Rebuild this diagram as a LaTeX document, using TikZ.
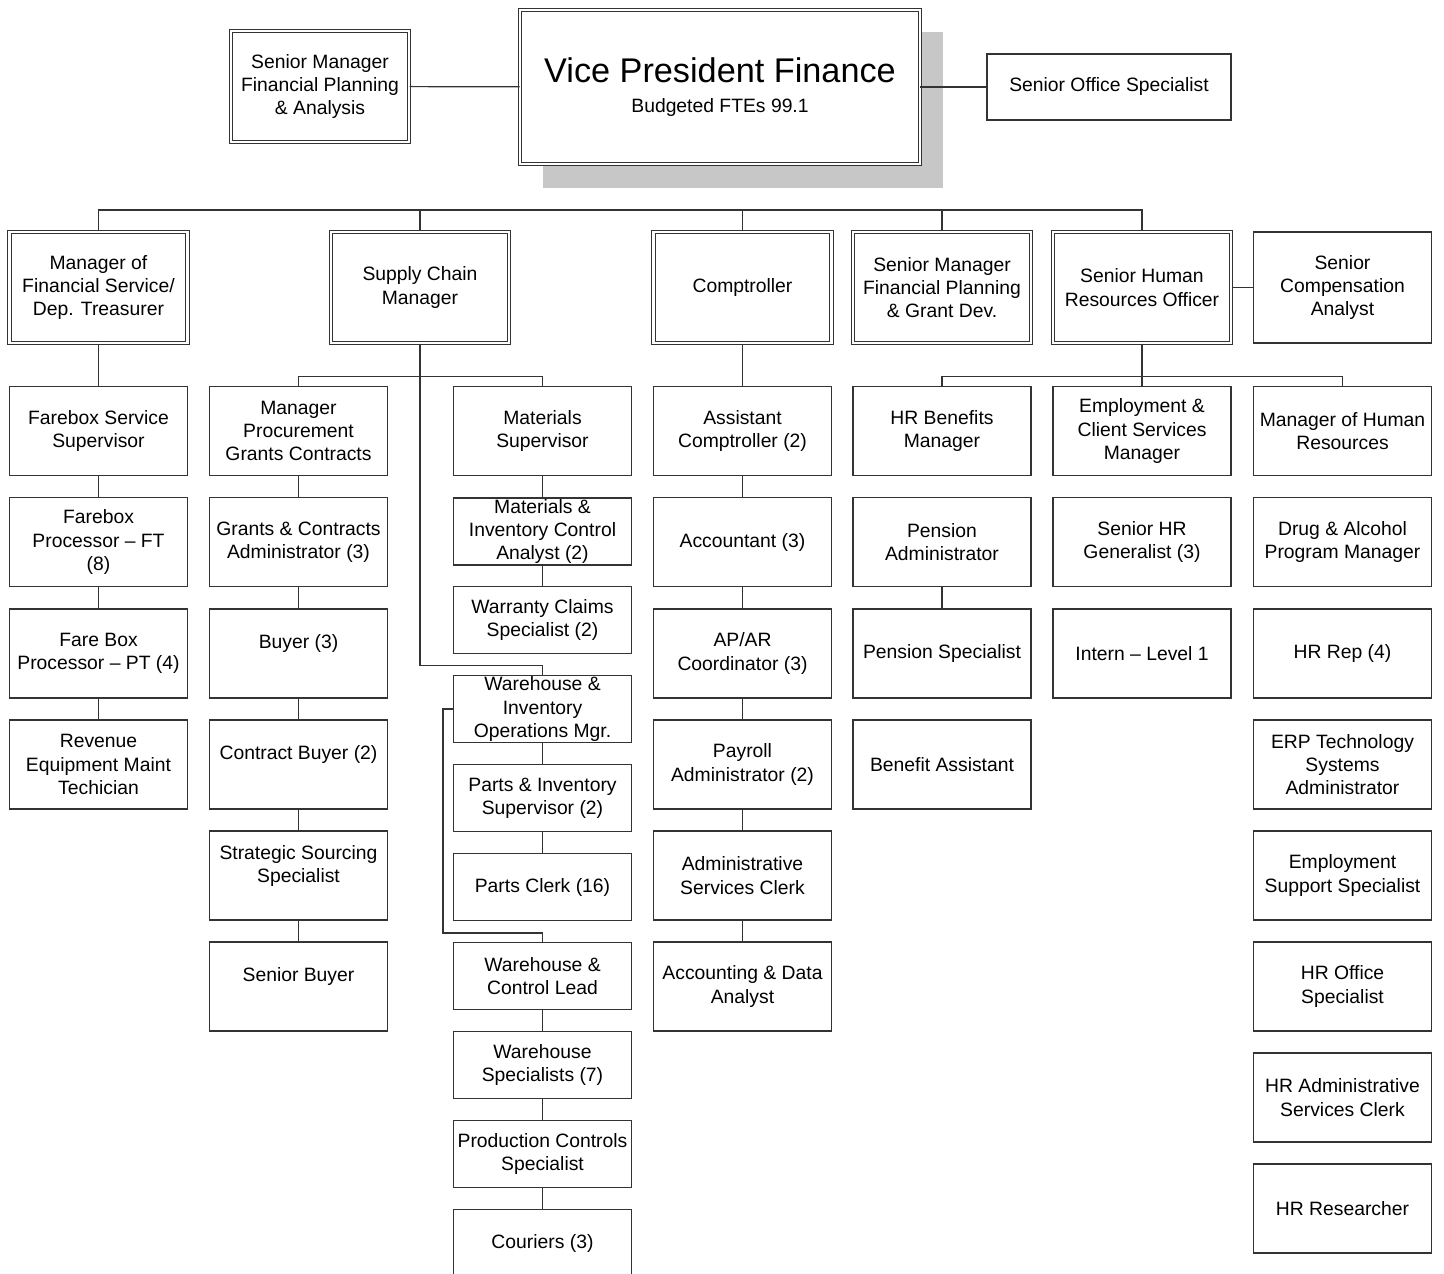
\documentclass[tikz,border=0pt]{standalone}
\usepackage{fontspec}
\setmainfont{Liberation Sans}
\begin{document}
\begin{tikzpicture}[
  x=0.02cm, y=-0.02cm,
  box/.style={rectangle, draw=black!80, line width=0.7pt, fill=white, align=center, inner sep=0pt, minimum width=3.56cm, minimum height=1.78cm, font=\fontsize{11}{13.3}\selectfont},
  dbox/.style={box, double, double distance=1.4pt, line width=0.6pt},
  headbox/.style={dbox, minimum height=2.22cm},
  thinbox/.style={box, minimum height=1.34cm},
  link/.style={line width=0.7pt, draw=black!80}
]

  % Fondo y márgenes
  \fill[white] (0,0) rectangle (1444,1274);
  \useasboundingbox (0,0) rectangle (1444,1274);

  % Dirección
  \fill[black!22] (543,32) rectangle (943,188);
  \node[dbox, minimum width=8cm, minimum height=3.08cm] (vp) at (720,87) {{\fontsize{19.5}{22}\selectfont Vice President Finance}\\[4pt] Budgeted FTEs 99.1};
  \node[dbox, minimum height=2.22cm] (smfpa) at (320,86.5) {Senior Manager\\Financial Planning\\\& Analysis};
  \node[box, minimum width=4.88cm, minimum height=1.32cm] (sos) at (1109,87) {Senior Office Specialist};

  % Segundo nivel
  \node[headbox] (mfs) at (98.5,287.5) {Manager of\\Financial Service/\\Dep. Treasurer};
  \node[headbox] (scm) at (420,287.5) {Supply Chain\\Manager};
  \node[headbox] (comp) at (742.5,287.5) {Comptroller};
  \node[headbox] (smfpg) at (942,287.5) {Senior Manager\\Financial Planning\\\& Grant Dev.};
  \node[headbox] (shro) at (1142,287.5) {Senior Human\\Resources Officer};
  \node[box, minimum height=2.22cm] (sca) at (1342.5,287.5) {Senior\\Compensation\\Analyst};

  % Servicios financieros
  \node[box] (fss) at (98.5,431) {Farebox Service\\Supervisor};
  \node[box] (fpft) at (98.5,542) {Farebox\\Processor -- FT\\(8)};
  \node[box] (fppt) at (98.5,653.5) {Fare Box\\Processor -- PT (4)};
  \node[box] (remt) at (98.5,764.5) {Revenue\\Equipment Maint\\Techician};

  % Compras
  \node[box] (mpgc) at (298.5,431) {Manager\\Procurement\\Grants Contracts};
  \node[box] (gca) at (298.5,542) {Grants \& Contracts\\Administrator (3)};
  \node[box] (buy) at (298.5,653.5) {Buyer (3)\\\mbox{}};
  \node[box] (cbuy) at (298.5,764.5) {Contract Buyer (2)\\\mbox{}};
  \node[box] (sss) at (298.5,875.5) {Strategic Sourcing\\Specialist\\\mbox{}};
  \node[box] (sbuy) at (298.5,986.5) {Senior Buyer\\\mbox{}};

  % Materiales y almacén
  \node[box] (msup) at (542.5,431) {Materials\\Supervisor};
  \node[thinbox] (mica) at (542.5,531.5) {Materials \&\\Inventory Control\\Analyst (2)};
  \node[thinbox] (wcs) at (542.5,620) {Warranty Claims\\Specialist (2)};
  \node[thinbox] (wio) at (542.5,709) {Warehouse \&\\Inventory\\Operations Mgr.};
  \node[thinbox] (pis) at (542.5,798) {Parts \& Inventory\\Supervisor (2)};
  \node[thinbox] (pc) at (542.5,887) {Parts Clerk (16)};
  \node[thinbox] (wcl) at (542.5,976) {Warehouse \&\\Control Lead};
  \node[thinbox] (wsp) at (542.5,1065) {Warehouse\\Specialists (7)};
  \node[thinbox] (pcs) at (542.5,1154) {Production Controls\\Specialist};
  \node[thinbox] (cou) at (542.5,1243) {Couriers (3)};

  % Contraloría
  \node[box] (acomp) at (742.5,431) {Assistant\\Comptroller (2)};
  \node[box] (acct) at (742.5,542) {Accountant (3)};
  \node[box] (apar) at (742.5,653.5) {AP/AR\\Coordinator (3)};
  \node[box] (pay) at (742.5,764.5) {Payroll\\Administrator (2)};
  \node[box] (asc) at (742.5,875.5) {Administrative\\Services Clerk};
  \node[box] (ada) at (742.5,986.5) {Accounting \& Data\\Analyst};

  % Recursos humanos
  \node[box] (hrbm) at (942,431) {HR Benefits\\Manager};
  \node[box] (pena) at (942,542) {Pension\\Administrator};
  \node[box] (pens) at (942,653.5) {Pension Specialist};
  \node[box] (bena) at (942,764.5) {Benefit Assistant};

  \node[box] (ecsm) at (1142,431) {Employment \&\\Client Services\\Manager};
  \node[box] (shrg) at (1142,542) {Senior HR\\Generalist (3)};
  \node[box] (intr) at (1142,653.5) {Intern -- Level 1};

  \node[box] (mhr) at (1342.5,431) {Manager of Human\\Resources};
  \node[box] (dapm) at (1342.5,542) {Drug \& Alcohol\\Program Manager};
  \node[box] (hrr) at (1342.5,653.5) {HR Rep (4)};
  \node[box] (erp) at (1342.5,764.5) {ERP Technology\\Systems\\Administrator};
  \node[box] (ess) at (1342.5,875.5) {Employment\\Support Specialist};
  \node[box] (hros) at (1342.5,986.5) {HR Office\\Specialist};
  \node[box] (hrasc) at (1342.5,1097.5) {HR Administrative\\Services Clerk};
  \node[box] (hrres) at (1342.5,1208.5) {HR Researcher};

  % Conexiones de la dirección
  \draw[link] (smfpa) -- (vp);
  \draw[link] (vp) -- (sos);
  \coordinate (bus) at (720,210);
  \draw[link] (mfs.north) |- (bus) -| (shro.north);
  \foreach \n in {scm,comp,smfpg}
    \draw[link] (\n.north) -- (\n.north |- bus);
  \draw[link] (shro) -- (sca);

  % Cadenas verticales
  \foreach \a/\b in {mfs/fss,fss/fpft,fpft/fppt,fppt/remt,
                     mpgc/gca,gca/buy,buy/cbuy,cbuy/sss,sss/sbuy,
                     msup/mica,mica/wcs,wio/pis,pis/pc,wcl/wsp,wsp/pcs,pcs/cou,
                     comp/acomp,acomp/acct,acct/apar,apar/pay,pay/asc,asc/ada,
                     pena/pens,shro/ecsm}
    \draw[link] (\a.south) -- (\b.north);

  % Ramas de compras, materiales y almacén
  \draw[link] (scm.south) -- ++(0,33) coordinate (scbus) -| (mpgc.north);
  \draw[link] (scbus) -| (msup.north);
  \draw[link] (scm.south) -- ++(0,322) -| (wio.north);
  \draw[link] (wio.west) -- ++(-10,0) -- ++(0,224) -| (wcl.north);

  % Ramas de recursos humanos
  \draw[link] (shro.south) -- ++(0,33) coordinate (hrbus) -| (hrbm.north);
  \draw[link] (hrbus) -| (mhr.north);

\end{tikzpicture}
\end{document}
